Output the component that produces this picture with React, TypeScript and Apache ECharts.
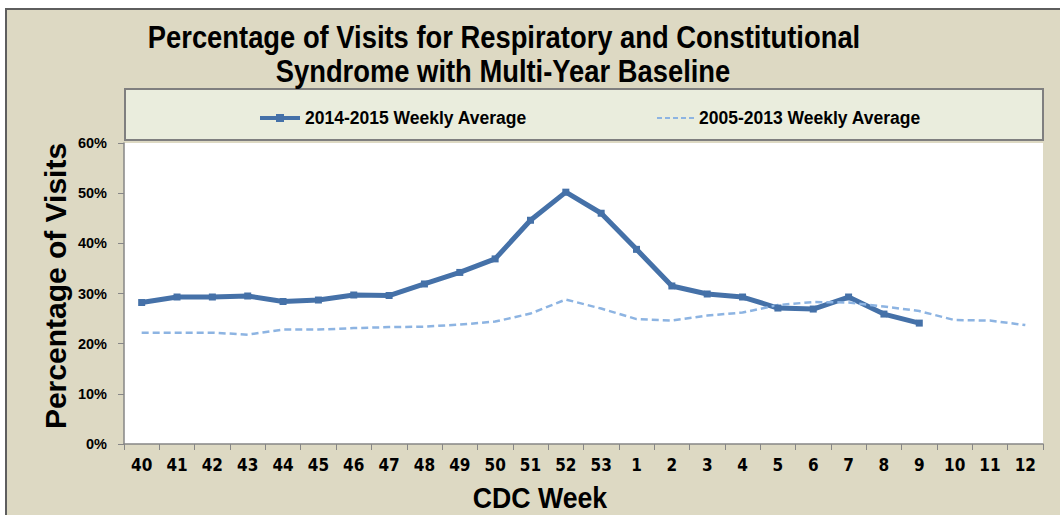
import React, { useEffect, useRef } from "react";
import * as echarts from "echarts";

const weeks = ["40","41","42","43","44","45","46","47","48","49","50","51","52","53","1","2","3","4","5","6","7","8","9","10","11","12"];
const season2014 = [28.2, 29.3, 29.3, 29.5, 28.4, 28.7, 29.7, 29.6, 31.9, 34.2, 36.9, 44.6, 50.2, 46.0, 38.8, 31.5, 29.9, 29.3, 27.1, 26.9, 29.3, 25.9, 24.1];
const baseline = [22.2, 22.2, 22.2, 21.8, 22.8, 22.8, 23.1, 23.3, 23.4, 23.8, 24.4, 26.0, 28.8, 27.0, 24.9, 24.6, 25.6, 26.2, 27.7, 28.3, 28.2, 27.4, 26.5, 24.7, 24.6, 23.7];
const seriesNames = ["2014-2015 Weekly Average", "2005-2013 Weekly Average"];
const titleLines = ["Percentage of Visits for Respiratory and Constitutional", "Syndrome with Multi-Year Baseline"];

const NARROW = "'DejaVu Sans Condensed', 'Liberation Sans Narrow', sans-serif";
const ARIAL = "'Liberation Sans', Arial, sans-serif";

const SOLID_ICON = "path://M0,3h40v4h-40z M16,1h8v8h-8z M0,0h0.01v0.01h-0.01z M0,10h0.01v-0.01h-0.01z";
const DASH_ICON = "path://M0,0h5v2h-5z M8,0h5v2h-5z M16,0h5v2h-5z M24,0h5v2h-5z M32,0h5v2h-5z";

export default function App() {
  const ref = useRef<HTMLDivElement>(null);
  useEffect(() => {
    if (!ref.current) return;
    const chart = echarts.init(ref.current, null, { renderer: "svg" });
    const bigText = (text: string, x: number, y: number, size: number, sx: number) => ({
      type: "text",
      x,
      y,
      scaleX: sx,
      style: { text, align: "center", verticalAlign: "middle", fontSize: size, fontWeight: "bold", fontFamily: ARIAL, fill: "#000" },
    });
    chart.setOption({
      animation: false,
      backgroundColor: "#ffffff",
      graphic: [
        { type: "rect", z: -10, shape: { x: 6, y: 9, width: 1070, height: 520 }, style: { fill: "#DDD9C3", stroke: "#5E5E5E", lineWidth: 2 } },
        { type: "rect", z: -5, shape: { x: 125, y: 89, width: 918, height: 51 }, style: { fill: "#EAEDDD", stroke: "#7F7F7F", lineWidth: 2 } },
        bigText(titleLines[0], 504, 37, 32, 0.855),
        bigText(titleLines[1], 503, 71, 32, 0.855),
        bigText("CDC Week", 540, 497, 30, 0.89),
        { type: "text", x: 55, y: 286, rotation: Math.PI / 2, style: { text: "Percentage of Visits", align: "center", verticalAlign: "middle", fontSize: 30, fontWeight: "bold", fontFamily: ARIAL, fill: "#000" } },
      ],
      legend: [
        { data: [{ name: seriesNames[0], icon: SOLID_ICON }], left: 255, top: 104, itemWidth: 40, itemHeight: 10, textStyle: { fontSize: 17.5, fontWeight: "bold", fontFamily: ARIAL, color: "#000" } },
        { data: [{ name: seriesNames[1], icon: DASH_ICON }], left: 652, top: 104, itemWidth: 37, itemHeight: 2, textStyle: { fontSize: 17.5, fontWeight: "bold", fontFamily: ARIAL, color: "#000" } },
      ],
      grid: { left: 124, top: 143, right: 17, bottom: 71, show: true, backgroundColor: "#ffffff", borderWidth: 0 },
      xAxis: {
        type: "category",
        data: weeks,
        boundaryGap: true,
        axisLine: { lineStyle: { color: "#868686", width: 1.5 } },
        axisTick: { show: true, length: 6, lineStyle: { color: "#868686" } },
        axisLabel: { margin: 12, fontSize: 17, fontWeight: "bold", fontFamily: NARROW, color: "#000", interval: 0 },
        splitLine: { show: false },
      },
      yAxis: {
        type: "value",
        min: 0,
        max: 60,
        interval: 10,
        axisLine: { show: true, lineStyle: { color: "#868686", width: 1.5 } },
        axisTick: { show: true, length: 6, lineStyle: { color: "#868686" } },
        axisLabel: { formatter: "{value}%", margin: 17, fontSize: 14.5, fontWeight: "bold", fontFamily: ARIAL, color: "#000" },
        splitLine: { show: false },
      },
      series: [
        {
          name: seriesNames[0],
          type: "line",
          data: season2014,
          symbol: "rect",
          symbolSize: 7,
          lineStyle: { color: "#4571A8", width: 5 },
          itemStyle: { color: "#4571A8" },
        },
        {
          name: seriesNames[1],
          type: "line",
          data: baseline,
          symbol: "none",
          lineStyle: { color: "#8DB4E2", width: 2.5, type: [7, 4] },
          itemStyle: { color: "#8DB4E2" },
        },
      ],
    });
    return () => chart.dispose();
  }, []);
  return <div ref={ref} style={{ position: "fixed", left: 0, top: 0, width: 1060, height: 515 }} />;
}
